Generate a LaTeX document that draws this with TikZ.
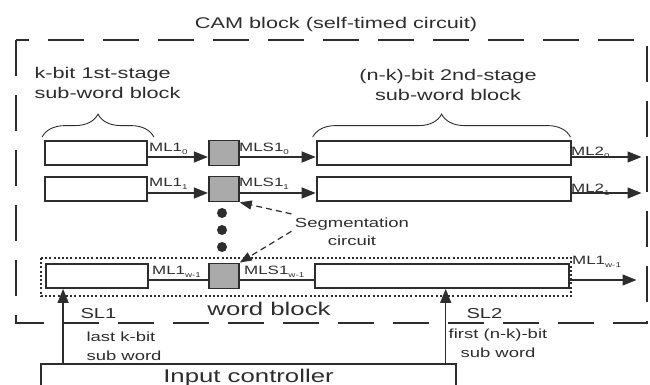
\documentclass[tikz,border=0pt]{standalone}
\usepackage{fontspec}
\setmainfont[FakeStretch=1.4]{Liberation Sans}
\definecolor{camgray}{RGB}{170,170,170}
\definecolor{camline}{RGB}{45,45,45}
\usetikzlibrary{arrows.meta,positioning,calc,decorations.pathreplacing}
\newcommand{\lsub}[1]{\raisebox{-3pt}{\fontsize{7}{7}\selectfont #1}}

\begin{document}
\begin{tikzpicture}[x=1pt, y=-1pt,
  cell/.style={rectangle, draw=camline, line width=1.8pt, fill=white, inner sep=0pt,
               minimum height=24pt},
  kcell/.style={cell, minimum width=102pt},
  nkcell/.style={cell, minimum width=254pt},
  segcell/.style={cell, fill=camgray, minimum width=30pt, minimum height=25pt},
  big/.style={font=\fontsize{15.5}{20}\selectfont, text=camline},
  huge/.style={font=\fontsize{18.4}{22}\selectfont, text=camline},
  small/.style={font=\fontsize{13.2}{19}\selectfont, text=camline},
  sltxt/.style={font=\fontsize{14.4}{18}\selectfont, text=camline},
  mltxt/.style={font=\fontsize{12.1}{14}\selectfont, text=camline, inner sep=0pt, anchor=base west},
  mlarr/.style={-{Triangle[length=14pt, width=11pt]}, line width=1.4pt, draw=camline},
  mlline/.style={line width=1.4pt, draw=camline},
  segarr/.style={-{Triangle[length=12pt, width=9pt]}, line width=1.2pt, draw=camline,
                 dash pattern=on 6pt off 4pt},
  brc/.style={decorate, decoration={brace, amplitude=23pt}, line width=0.9pt, draw=camline},
  camframe/.style={line width=1.3pt, draw=camline, dash pattern=on 36pt off 19pt},
  wordblk/.style={line width=2pt, draw=camline, dash pattern=on 2pt off 2.2pt},
  ctrlbox/.style={rectangle, draw=camline, line width=1.6pt, minimum width=415pt,
                  minimum height=28pt, anchor=north, inner sep=0pt}
]
\useasboundingbox (0,0) rectangle (650,385);
\clip (0,0) rectangle (650,385);

% CAM block
\draw[camframe] (16,40) rectangle (647,323);
\node[big, anchor=base] (camtxt) at (336,29) {CAM block (self-timed circuit)};

\node[big, align=left, anchor=base west] (kstage) at (31,99) {k-bit 1st-stage\\sub-word block};
\node[big, align=center, anchor=base] (nkstage) at (448,101) {(n-k)-bit 2nd-stage\\sub-word block};

% rows
\node[kcell] (a0) at (96,153) {};
\node[segcell, right=60pt of a0] (s0) {};
\node[nkcell, right=76pt of s0] (b0) {};

\node[kcell] (a1) at (96,189) {};
\node[segcell, right=60pt of a1] (s1) {};
\node[nkcell, right=76pt of s1] (b1) {};

\node[kcell] (a2) at (97,276) {};
\node[segcell, right=59pt of a2] (s2) {};
\node[nkcell, right=74pt of s2] (b2) {};

\draw[brc] ([xshift=-2pt,yshift=3pt]a0.north west) -- ([xshift=6pt,yshift=3pt]a0.north east);
\draw[brc] ([xshift=-3pt,yshift=3pt]b0.north west) -- ([xshift=-1pt,yshift=3pt]b0.north east);

\coordinate (out0) at ([xshift=70pt,yshift=-4pt]b0.east);
\coordinate (out1) at ([xshift=70pt,yshift=-4pt]b1.east);
\coordinate (out2) at ([xshift=67pt,yshift=-4pt]b2.east);

\draw[mlarr] ([yshift=-4pt]a0.east) -- ([yshift=-4pt]s0.west);
\draw[mlarr] ([yshift=-4pt]s0.east) -- ([yshift=-4pt]b0.west);
\draw[mlarr] ([yshift=-4pt]b0.east) -- (out0);
\draw[mlarr] ([yshift=-4pt]a1.east) -- ([yshift=-4pt]s1.west);
\draw[mlarr] ([yshift=-4pt]s1.east) -- ([yshift=-4pt]b1.west);
\draw[mlarr] ([yshift=-4pt]b1.east) -- (out1);
\draw[mlline] ([yshift=-4pt]a2.east) -- ([yshift=-4pt]s2.west);
\draw[mlline] ([yshift=-4pt]s2.east) -- ([yshift=-4pt]b2.west);
\draw[mlarr] ([yshift=-4pt]b2.east) -- (out2);

\node[mltxt] (ml10) at (149,151) {ML1\lsub{0}};
\node[mltxt] (mls10) at (239,151) {MLS1\lsub{0}};
\node[mltxt] (ml20) at (571,155) {ML2\lsub{0}};
\node[mltxt] (ml11) at (149,186) {ML1\lsub{1}};
\node[mltxt] (mls11) at (239,186) {MLS1\lsub{1}};
\node[mltxt] (ml21) at (571,192) {ML2\lsub{1}};
\node[mltxt] (ml1w) at (152,274) {ML1\lsub{w-1}};
\node[mltxt] (mls1w) at (244,274) {MLS1\lsub{w-1}};
\node[mltxt] (ml1wout) at (572,264) {ML1\lsub{w-1}};

% segmentation circuit
\foreach \y in {213,230,247}
  \fill[camline] (222,\y) circle (5pt);
\node[small, align=center, anchor=base, font=\fontsize{13.2}{18}\selectfont] (segtxt) at (352,245)
  {Segmentation\\circuit};
\draw[segarr] (segtxt.north west) -- (s1.south east);
\draw[segarr] (segtxt.west) -- (s2.north east);

% word block
\draw[wordblk] (41,258) rectangle (571,296);
\node[huge, anchor=base] (wbtxt) at (269,315) {word block};

% input controller
\node[ctrlbox, huge] (ctrl) at (248.5,363) {Input controller};
\coordinate (sl1) at ([xshift=18pt]a2.south west);
\coordinate (sl2) at ([xshift=132pt]b2.south west);
\draw[mlarr] (sl1 |- ctrl.north) -- (sl1);
\draw[mlarr] (sl2 |- ctrl.north) -- (sl2);

\node[sltxt, anchor=base west] (sl1txt) at (77,318) {SL1};
\node[small, align=left, anchor=base west] (sl1sub) at (83,360) {last k-bit\\sub word};
\node[sltxt, anchor=base west] (sl2txt) at (463,318) {SL2};
\node[small, align=center, anchor=base] (sl2sub) at (498,357) {first (n-k)-bit\\sub word};
\end{tikzpicture}
\end{document}
